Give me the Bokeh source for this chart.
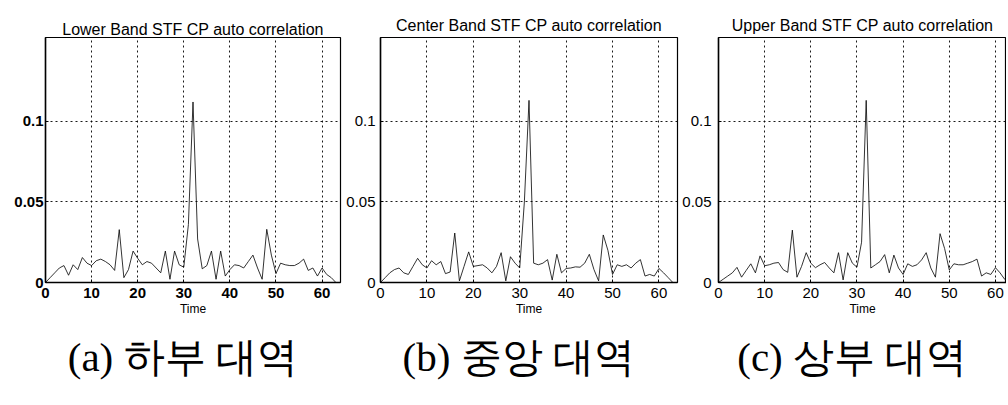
from bokeh.plotting import figure
from bokeh.layouts import row
from bokeh.models import FixedTicker, Title, Range1d
from bokeh.embed import file_html
from bokeh.resources import INLINE

# ---- data ----
time = list(range(64))
lower = [0, 0.003, 0.006, 0.009, 0.0105, 0.0045, 0.011, 0.008, 0.0155, 0.012,
         0.0105, 0.0135, 0.0145, 0.013, 0.011, 0.0075, 0.0328, 0.003, 0.008, 0.0195,
         0.015, 0.011, 0.013, 0.012, 0.009, 0.006, 0.0195, 0.002, 0.0195, 0.011,
         0.0095, 0.036, 0.112, 0.027, 0.0085, 0.0105, 0.0195, 0.002, 0.0195, 0.004,
         0.008, 0.011, 0.0105, 0.009, 0.013, 0.017, 0.009, 0.002, 0.033, 0.017,
         0.0055, 0.012, 0.011, 0.0105, 0.0105, 0.012, 0.0145, 0.0075, 0.009, 0.004,
         0.009, 0.005, 0.003, 0.0]
center = [0, 0.003, 0.006, 0.008, 0.009, 0.006, 0.005, 0.010, 0.015, 0.011,
          0.009, 0.0135, 0.011, 0.013, 0.0055, 0.0065, 0.0307, 0.001, 0.010, 0.019,
          0.010, 0.0105, 0.011, 0.009, 0.006, 0.010, 0.0185, 0.001, 0.016, 0.012,
          0.009, 0.05, 0.113, 0.012, 0.011, 0.012, 0.0142, 0.0015, 0.0175, 0.006,
          0.0087, 0.009, 0.0097, 0.0095, 0.012, 0.0175, 0.008, 0.001, 0.0295, 0.020,
          0.005, 0.011, 0.010, 0.011, 0.009, 0.012, 0.0142, 0.004, 0.005, 0.004,
          0.0087, 0.006, 0.003, 0.0]
upper = [0, 0.002, 0.004, 0.006, 0.0094, 0.0033, 0.0075, 0.0116, 0.006, 0.0165,
         0.0104, 0.011, 0.012, 0.0124, 0.008, 0.0063, 0.0325, 0.0033, 0.010, 0.0185,
         0.012, 0.0092, 0.011, 0.0124, 0.009, 0.006, 0.0185, 0.0016, 0.0185, 0.012,
         0.0095, 0.025, 0.113, 0.009, 0.011, 0.013, 0.0173, 0.006, 0.017, 0.009,
         0.005, 0.0116, 0.010, 0.011, 0.014, 0.0185, 0.009, 0.0033, 0.0303, 0.021,
         0.0078, 0.0116, 0.011, 0.011, 0.012, 0.013, 0.0145, 0.004, 0.006, 0.005,
         0.0092, 0.006, 0.002, 0.0]

titles = ["Lower Band STF CP auto correlation",
          "Center Band STF CP auto correlation",
          "Upper Band STF CP auto correlation"]
captions = ["(a)  하부  대역", "(b)  중앙  대역", "(c)  상부  대역"]
x_label = "Time"
x_ticks = [0, 10, 20, 30, 40, 50, 60]
y_ticks = [0, 0.05, 0.1]
y_tick_labels = {0: "0", 0.05: "0.05", 0.1: "0.1"}

series = [lower, center, upper]

# ---- layout (pixels) ----
widths = [343, 336, 327]
mb_left = [45, 37, 38]
mb_right = [3, 2, 0]
mb_top = [33, 37, 37]
mb_bottom = [115, 114, 112]
x_end = [64, 64, 62.4]
y_standoff = [2, 5, 7]
title_standoff = [0, 7, 7]
cap_offset = [-29, 6, -4]
label_style = ["bold", "normal", "normal"]

figs = []
for i in range(3):
    p = figure(width=widths[i], height=397, output_backend="svg",
               toolbar_location=None, tools="",
               x_range=Range1d(0, x_end[i]), y_range=Range1d(0, 0.152),
               min_border_left=mb_left[i], min_border_right=mb_right[i],
               min_border_top=mb_top[i], min_border_bottom=mb_bottom[i],
               background_fill_color="white", border_fill_color="white")
    p.title.text = titles[i]
    p.title.align = "center"
    p.title.text_font = "Liberation Sans"
    p.title.text_font_size = "16px"
    p.title.text_font_style = "normal"
    p.title.text_color = "black"
    p.title.standoff = title_standoff[i]
    p.outline_line_color = "black"
    p.outline_line_width = 1.2

    p.line(time, series[i], line_color="black", line_width=1, line_alpha=0.8)

    for ax in (p.xaxis[0], p.yaxis[0]):
        ax.axis_line_color = "black"
        ax.axis_line_width = 1.5
        ax.major_tick_in = 3
        ax.major_tick_out = 0
        ax.minor_tick_line_color = None
        ax.major_tick_line_color = "black"
        ax.major_label_text_font = "Liberation Sans"
        ax.major_label_text_font_size = "15px"
        ax.major_label_text_font_style = label_style[i]
        ax.major_label_text_color = "black"
    p.xaxis.ticker = FixedTicker(ticks=x_ticks)
    p.yaxis.ticker = FixedTicker(ticks=y_ticks)
    p.yaxis.major_label_overrides = y_tick_labels
    p.xaxis.major_label_standoff = 5
    p.yaxis.major_label_standoff = y_standoff[i]
    p.xaxis.axis_label = x_label
    p.xaxis.axis_label_text_font = "Liberation Sans"
    p.xaxis.axis_label_text_font_size = "12px"
    p.xaxis.axis_label_text_font_style = "normal"
    p.xaxis.axis_label_text_color = "black"
    p.xaxis.axis_label_standoff = 1

    p.xgrid.ticker = FixedTicker(ticks=x_ticks[1:])
    p.ygrid.ticker = FixedTicker(ticks=y_ticks[1:])
    for g in (p.xgrid[0], p.ygrid[0]):
        g.grid_line_color = "black"
        g.grid_line_dash = "2 3"
        g.grid_line_width = 1
        g.grid_line_alpha = 0.9

    cap = Title(text=captions[i], align="center", offset=cap_offset[i],
                text_font="Liberation Serif", text_font_size="41px",
                text_font_style="normal", text_color="black", standoff=27)
    p.add_layout(cap, "below")
    figs.append(p)

layout = row(*figs, spacing=0)
open("out.html", "w").write(file_html(layout, INLINE))
